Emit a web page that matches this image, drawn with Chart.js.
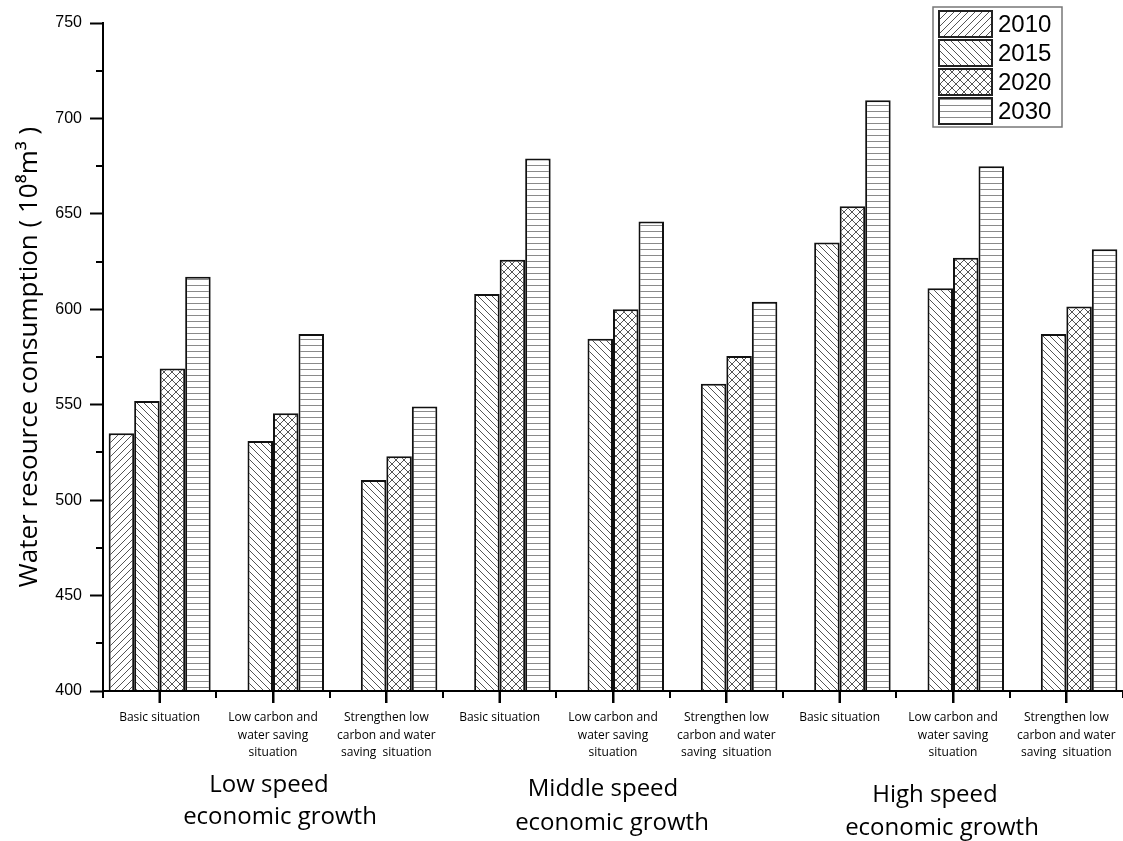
<!DOCTYPE html>
<html>
<head>
<meta charset="utf-8">
<script src="https://cdn.jsdelivr.net/npm/chart.js@4/dist/chart.umd.min.js"></script>
<style>
  html, body { margin: 0; padding: 0; background: #fff; }
  #wrap { width: 1123px; height: 841px; position: relative; }
</style>
</head>
<body>
<div id="wrap"><canvas id="chart"></canvas></div>
<script>
/* ---------- Data ---------- */
const categories = [
  "Basic situation",
  ["Low carbon and", "water saving", "situation"],
  ["Strengthen low", "carbon and water", "saving  situation"],
  "Basic situation",
  ["Low carbon and", "water saving", "situation"],
  ["Strengthen low", "carbon and water", "saving  situation"],
  "Basic situation",
  ["Low carbon and", "water saving", "situation"],
  ["Strengthen low", "carbon and water", "saving  situation"]
];
const groupLabels = [
  ["Low speed", "economic growth"],
  ["Middle speed", "economic growth"],
  ["High speed", "economic growth"]
];
const groupCenters = [1, 4, 7]; // category index under which each group title sits
const years = ["2010", "2015", "2020", "2030"];
const v2010 = [535, null, null, null, null, null, null, null, null];
const v2015 = [552, 531, 510.5, 608, 584.5, 561, 635, 611, 587];
const v2020 = [569, 545.5, 523, 626, 600, 575.5, 654, 627, 601.5];
const v2030 = [617, 587, 549, 679, 646, 604, 709.5, 675, 631.5];
const yMin = 400, yMax = 750, yStep = 50;

/* ---------- Hatch patterns ---------- */
function makePattern(kind) {
  const s = kind === "cross" ? 8 : (kind === "horiz" ? 6 : 7);
  const c = document.createElement("canvas");
  c.width = s; c.height = s;
  const g = c.getContext("2d");
  g.fillStyle = "#fff";
  g.fillRect(0, 0, s, s);
  g.strokeStyle = kind === "horiz" ? "#8a8a8a" : "#555";
  g.lineWidth = 1;
  g.beginPath();
  if (kind === "slash" || kind === "cross") {
    g.moveTo(-1, s + 1); g.lineTo(s + 1, -1);
    g.moveTo(-1, 1); g.lineTo(1, -1);
    g.moveTo(s - 1, s + 1); g.lineTo(s + 1, s - 1);
  }
  if (kind === "back" || kind === "cross") {
    g.moveTo(-1, -1); g.lineTo(s + 1, s + 1);
    g.moveTo(s - 1, -1); g.lineTo(s + 1, 1);
    g.moveTo(-1, s - 1); g.lineTo(1, s + 1);
  }
  if (kind === "horiz") {
    g.moveTo(0, 3.5); g.lineTo(s, 3.5);
  }
  g.stroke();
  return g.createPattern(c, "repeat");
}
const fills = [makePattern("slash"), makePattern("back"), makePattern("cross"), makePattern("horiz")];

/* ---------- Plugins ---------- */
const extras = {
  id: "extras",
  afterDraw(chart) {
    const ctx = chart.ctx;
    const x = chart.scales.x, y = chart.scales.y;
    const area = chart.chartArea;
    ctx.save();
    ctx.strokeStyle = "#000";
    ctx.lineWidth = 2;
    ctx.beginPath();
    // axis lines on top of the bars
    ctx.moveTo(area.left, area.top); ctx.lineTo(area.left, area.bottom + 1);
    ctx.moveTo(area.left - 1, area.bottom); ctx.lineTo(chart.width, area.bottom);
    // minor y ticks
    for (let v = yMin + yStep / 2; v < yMax; v += yStep) {
      const py = Math.round(y.getPixelForValue(v));
      ctx.moveTo(area.left - 7, py); ctx.lineTo(area.left, py);
    }
    // minor x ticks at category boundaries, major ones at centres
    const n = categories.length;
    for (let k = 0; k <= n; k++) {
      const px = Math.round(x.left + x.width * k / n);
      ctx.moveTo(px, area.bottom); ctx.lineTo(px, area.bottom + 7);
    }
    for (let k = 0; k < n; k++) {
      const px = Math.round(x.getPixelForValue(k));
      ctx.moveTo(px, area.bottom); ctx.lineTo(px, area.bottom + 12);
    }
    ctx.stroke();

    // group titles
    ctx.fillStyle = "#000";
    ctx.font = '24px "Open Sans"';
    ctx.textAlign = "center";
    ctx.textBaseline = "middle";
    const offs = [[-4, 94, 7, 126], [-10, 98, -1, 132], [-18, 104, -11, 137]];
    groupLabels.forEach((lines, i) => {
      const cx = x.getPixelForValue(groupCenters[i]);
      const o = offs[i];
      ctx.fillText(lines[0], cx + o[0], area.bottom + o[1]);
      ctx.fillText(lines[1], cx + o[2], area.bottom + o[3]);
    });

    // legend box
    const lx = 933, ly = 7, lw = 129, lh = 120;
    ctx.lineWidth = 1.5;
    ctx.strokeStyle = "#777";
    ctx.strokeRect(lx, ly, lw, lh);
    ctx.font = '24px "Liberation Sans", Arial';
    ctx.textAlign = "left";
    years.forEach((yr, i) => {
      const ry = 11 + i * 29;
      ctx.fillStyle = fills[i];
      ctx.fillRect(939, ry, 53, 26);
      ctx.strokeStyle = "#222";
      ctx.lineWidth = 2;
      ctx.strokeRect(939, ry, 53, 26);
      ctx.fillStyle = "#000";
      ctx.fillText(yr, 998, ry + 14);
    });
    ctx.restore();
  }
};

/* ---------- Chart ---------- */
const seriesValues = [v2010, v2015, v2020, v2030];
const datasets = years.map((yr, i) => ({
  label: yr,
  data: seriesValues[i],
  backgroundColor: fills[i],
  borderColor: "#111",
  borderWidth: 2,
  borderSkipped: "bottom",
  categoryPercentage: 0.9,
  barPercentage: 1.0
}));

new Chart(document.getElementById("chart"), {
  type: "bar",
  data: { labels: categories, datasets },
  plugins: [extras],
  options: {
    responsive: true,
    maintainAspectRatio: false,
    animation: false,
    layout: { padding: { top: 23, right: 0, left: 0, bottom: 0 } },
    plugins: { legend: { display: false }, tooltip: { enabled: false } },
    scales: {
      x: {
        offset: true,
        grid: { display: true, drawOnChartArea: false, offset: false, tickLength: 12, tickColor: "#000", tickWidth: 2 },
        border: { color: "#000", width: 2 },
        ticks: {
          autoSkip: false, maxRotation: 0, minRotation: 0, padding: 6,
          color: "#000", font: { family: '"Open Sans"', size: 12, lineHeight: 1.45 }
        },
        afterFit(scale) { scale.height = 150; }
      },
      y: {
        min: yMin, max: yMax,
        grid: { display: true, drawOnChartArea: false, tickLength: 13, tickColor: "#000", tickWidth: 2 },
        border: { color: "#000", width: 2 },
        ticks: {
          stepSize: yStep, padding: 8, color: "#000",
          font: { family: '"Liberation Sans", Arial', size: 16 }
        },
        title: {
          display: true,
          text: "Water resource consumption ( 10\u2078m\u00B3 )",
          color: "#000",
          font: { family: '"Open Sans"', size: 26 },
          padding: { top: 14, bottom: 0 }
        },
        afterFit(scale) { scale.width = 103; }
      }
    }
  }
});
</script>
</body>
</html>
